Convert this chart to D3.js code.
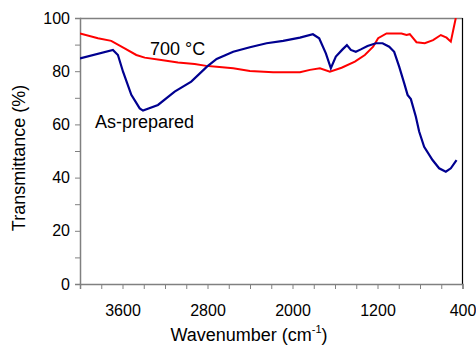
<!DOCTYPE html>
<html><head><meta charset="utf-8">
<script src="https://cdn.jsdelivr.net/npm/d3@7"></script>
<style>body{margin:0;background:#fff}svg{display:block}text{font-family:"Liberation Sans",Arial,sans-serif}</style>
</head><body><svg id="c" width="476" height="345"></svg>
<script>
const asPrepWave = [4000,3690,3643,3595,3517,3438,3407,3266,3109,2953,2805,2714,2558,2401,2244,2088,1930,1808,1749,1686,1639,1592,1529,1488,1451,1404,1357,1294,1215,1152,1090,1043,996,949,917,886,839,808,761,682,620,557,510,456];
const asPrepT = [84.8,88.0,86.1,79.8,71.1,66.0,65.2,67.3,72.3,76.1,81.7,84.6,87.3,89.0,90.5,91.4,92.6,93.9,92.4,86.7,81.1,85.5,88.2,89.8,88.0,87.3,88.2,89.5,90.5,90.5,89.2,87.3,81.7,75.5,71.1,69.5,62.9,57.3,51.6,46.6,43.5,42.2,43.5,46.6];
const c700Wave = [4000,3831,3706,3580,3470,3391,3235,3078,2921,2812,2714,2558,2401,2182,1930,1836,1742,1648,1538,1413,1319,1241,1194,1115,974,927,896,833,755,677,604,550,510,487,463];
const c700T = [94.2,92.4,91.4,88.6,86.1,85.1,84.2,83.3,82.7,82.0,81.7,81.1,80.1,79.6,79.6,80.5,81.1,79.8,81.3,83.6,86.1,89.2,92.4,94.2,94.2,93.6,93.9,90.9,90.5,91.7,93.6,92.6,91.1,95.5,100];
const xTickLabels = [3600,2800,2000,1200,400];
const yTickLabels = [0,20,40,60,80,100];
const seriesNames = ["As-prepared","700 °C"];

const svg = d3.select("#c");
const L=80, T=18, R=462.5, B=284;
const x = d3.scaleLinear().domain([4000,400]).range([L,R]);
const y = d3.scaleLinear().domain([0,100]).range([B,T]);
const grey="#808080";

svg.append("line").attr("x1",L).attr("x2",R).attr("y1",T+0.5).attr("y2",T+0.5).attr("stroke",grey).attr("stroke-width",1.5);
svg.append("line").attr("x1",R).attr("x2",R).attr("y1",T).attr("y2",B).attr("stroke","#000").attr("stroke-width",1.2);

const xAxis = d3.axisBottom(x).tickValues(d3.range(4000,399,-200)).tickSize(5).tickFormat(d=>xTickLabels.includes(d)?d:"");
const gx = svg.append("g").attr("transform",`translate(0,${B})`).call(xAxis);
gx.select(".domain").attr("stroke",grey).attr("stroke-width",1.5);
gx.selectAll(".tick line").attr("stroke",grey).attr("stroke-width",1);
gx.selectAll("text").attr("font-size",16).attr("fill","#000").attr("dy","1.5em");

const yAxis = d3.axisLeft(y).tickValues(d3.range(0,101,10)).tickSize(5).tickFormat(d=>yTickLabels.includes(d)?d:"");
const gy = svg.append("g").attr("transform",`translate(${L},0)`).call(yAxis);
gy.select(".domain").attr("stroke",grey).attr("stroke-width",1.5);
gy.selectAll(".tick line").attr("stroke",grey).attr("stroke-width",1);
gy.selectAll("text").attr("font-size",16).attr("fill","#000").attr("x",-10);

svg.append("defs").append("clipPath").attr("id","clp").append("rect").attr("x",L).attr("y",T).attr("width",R-L).attr("height",B-T);
const line = d3.line().x(d=>x(d[0])).y(d=>y(d[1]));
const g = svg.append("g").attr("clip-path","url(#clp)");
g.append("path").datum(c700Wave.map((w,i)=>[w,c700T[i]])).attr("d",line).attr("fill","none").attr("stroke","#ff0000").attr("stroke-width",2);
g.append("path").datum(asPrepWave.map((w,i)=>[w,asPrepT[i]])).attr("d",line).attr("fill","none").attr("stroke","#000090").attr("stroke-width",2.2);

svg.append("text").attr("x",95).attr("y",128).attr("font-size",18).text(seriesNames[0]);
svg.append("text").attr("x",150).attr("y",55).attr("font-size",18).text(seriesNames[1]);

const xl = svg.append("text").attr("x",249).attr("y",341).attr("text-anchor","middle").attr("font-size",18);
xl.append("tspan").text("Wavenumber (cm");
xl.append("tspan").attr("font-size",11).attr("dy",-8).text("-1");
xl.append("tspan").attr("dy",8).text(")");
svg.append("text").attr("transform","translate(25,158) rotate(-90)").attr("text-anchor","middle").attr("font-size",18).text("Transmittance (%)");
</script></body></html>
